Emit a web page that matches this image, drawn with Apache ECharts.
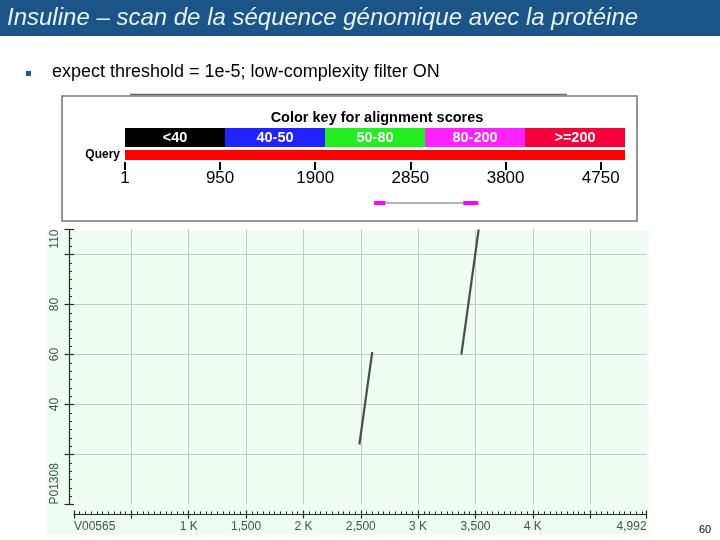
<!DOCTYPE html>
<html>
<head>
<meta charset="utf-8">
<script src="https://cdn.jsdelivr.net/npm/echarts@6/dist/echarts.min.js"></script>
<style>html,body{margin:0;padding:0;background:#fff}#c{width:720px;height:540px}</style>
</head>
<body>
<div id="c"></div>
<script>
// ---- text ----
const titleText = 'Insuline – scan de la séquence génomique avec la protéine';
const subtitleText = 'expect threshold = 1e-5; low-complexity filter ON';
const keyTitle = 'Color key for alignment scores';
const pageNumber = '60';
// ---- colour key ----
const keyLabels = ['<40', '40-50', '50-80', '80-200', '>=200'];
const keyPalette = ['#000000', '#2222ff', '#22ee22', '#ff22ff', '#f5003a'];
// ---- query / subject ----
const queryName = 'Query';
const queryLength = 4992;
const queryTicks = [1, 950, 1900, 2850, 3800, 4750];
const genomicName = 'V00565';
const proteinName = 'P01308';
const proteinLength = 110;
// ---- HSPs (genomic nt start/end, protein aa start/end) ----
const hspNtStart = [2488, 3377];
const hspNtEnd = [2600, 3528];
const hspAaStart = [24, 60];
const hspAaEnd = [61, 110];
// ---- dot plot tick labels ----
const xTickLabels = {0: genomicName, 1000: '1 K', 1500: '1,500', 2000: '2 K', 2500: '2,500', 3000: '3 K', 3500: '3,500', 4000: '4 K', 4992: '4,992'};
const yTickLabels = {0: proteinName, 40: '40', 60: '60', 80: '80', 110: '110'};

const FONT = 'Liberation Sans, Arial, sans-serif';
const axisDark = '#1e2e22';
const labelCol = '#3c5a44';
const gridCol = '#c3cbc4';

const chart = echarts.init(document.getElementById('c'));

const dotSeries = hspNtStart.map((s, i) => ({
  type: 'line', xAxisIndex: 0, yAxisIndex: 0,
  data: [[s, hspAaStart[i]], [hspNtEnd[i], hspAaEnd[i]]],
  showSymbol: false, symbol: 'none', silent: true,
  lineStyle: {color: '#4a4f4b', width: 2.2}, z: 5
}));

const option = {
  animation: false,
  backgroundColor: '#ffffff',
  grid: [
    {left: 74, top: 229.5, width: 572.6, height: 275, show: false},
    {left: 125, top: 128, width: 500, height: 19, show: false},
    {left: 125, top: 150, width: 500, height: 10, show: false},
    {left: 125, top: 195, width: 500, height: 16, show: false}
  ],
  xAxis: [
    { // dot plot main
      gridIndex: 0, type: 'value', min: 0, max: queryLength, interval: 500,
      position: 'bottom', offset: 10,
      axisLine: {show: true, onZero: false, lineStyle: {color: axisDark, width: 1.2}},
      axisTick: {show: true, inside: true, length: 4, lineStyle: {color: axisDark, width: 1.2}},
      minorTick: {show: true, splitNumber: 10, length: 3, lineStyle: {color: axisDark, width: 1}},
      axisLabel: {show: true, margin: 6, fontSize: 12, fontFamily: FONT, color: labelCol,
        alignMinLabel: 'left', alignMaxLabel: 'right',
        formatter: v => (xTickLabels[v] !== undefined ? xTickLabels[v] : '')},
      splitLine: {show: true, showMinLine: false, showMaxLine: false, lineStyle: {color: gridCol, width: 1}},
      minorSplitLine: {show: false}
    },
    { // dot plot outer ticks
      gridIndex: 0, type: 'value', min: 0, max: queryLength, interval: 500,
      position: 'bottom', offset: 10,
      axisLine: {show: false, onZero: false}, axisLabel: {show: false}, splitLine: {show: false},
      axisTick: {show: true, inside: false, length: 4, lineStyle: {color: axisDark, width: 1.2}}
    },
    { // colour key
      gridIndex: 1, type: 'category', data: keyLabels, show: false
    },
    { // query axis
      gridIndex: 2, type: 'value', min: 1, max: queryLength, position: 'bottom', offset: 2,
      axisLine: {show: false, onZero: false},
      axisTick: {show: true, customValues: queryTicks, length: 8, lineStyle: {color: '#000', width: 2}},
      axisLabel: {show: true, customValues: queryTicks, margin: 8, fontSize: 17, fontFamily: FONT, color: '#000',
        formatter: v => String(v)},
      splitLine: {show: false}
    },
    { // hits
      gridIndex: 3, type: 'value', min: 1, max: queryLength, show: false
    }
  ],
  yAxis: [
    { // dot plot main
      gridIndex: 0, type: 'value', min: 0, max: proteinLength, interval: 20,
      position: 'left', offset: 5,
      axisLine: {show: true, onZero: false, lineStyle: {color: axisDark, width: 1.2}},
      axisTick: {show: true, inside: true, length: 5, lineStyle: {color: axisDark, width: 1.2}},
      minorTick: {show: true, splitNumber: 6, length: 3, lineStyle: {color: axisDark, width: 1}},
      axisLabel: {show: true, rotate: 90, margin: 8, fontSize: 12, fontFamily: FONT, color: labelCol,
        alignMinLabel: 'left', alignMaxLabel: 'right',
        formatter: v => (yTickLabels[v] !== undefined ? yTickLabels[v] : '')},
      splitLine: {show: true, showMinLine: false, showMaxLine: false, lineStyle: {color: gridCol, width: 1}},
      minorSplitLine: {show: false}
    },
    { // dot plot outer ticks
      gridIndex: 0, type: 'value', min: 0, max: proteinLength, interval: 20,
      position: 'left', offset: 5,
      axisLine: {show: false, onZero: false}, axisLabel: {show: false}, splitLine: {show: false},
      axisTick: {show: true, inside: false, length: 4.5, lineStyle: {color: axisDark, width: 1.2}}
    },
    {gridIndex: 1, type: 'value', min: 0, max: 1, show: false},
    { // query label axis
      gridIndex: 2, type: 'category', data: [queryName],
      axisLine: {show: false, onZero: false}, axisTick: {show: false},
      axisLabel: {show: true, margin: 5, fontSize: 12, fontWeight: 'bold', fontFamily: FONT, color: '#000'}
    },
    {gridIndex: 3, type: 'value', min: 0, max: 1, show: false}
  ],
  graphic: [
    {type: 'rect', z: -10, shape: {x: 0, y: 0, width: 720, height: 36}, style: {fill: '#1b5486'}},
    {type: 'text', z: 10, x: 7, y: 18, style: {text: titleText, fill: '#e6f2ff', font: 'italic 24px ' + FONT, textVerticalAlign: 'middle'}},
    {type: 'rect', z: 10, shape: {x: 26, y: 71, width: 5, height: 5}, style: {fill: '#24578a'}},
    {type: 'text', z: 10, x: 52, y: 72, style: {text: subtitleText, fill: '#000', font: '18px ' + FONT, textVerticalAlign: 'middle'}},
    {type: 'line', z: -9, shape: {x1: 130, y1: 94.5, x2: 567, y2: 94.5}, style: {stroke: '#6a6a6a', lineWidth: 1.5}},
    {type: 'rect', z: -9, shape: {x: 62, y: 96, width: 575, height: 125}, style: {fill: '#ffffff', stroke: '#7a7a7a', lineWidth: 1.6}},
    {type: 'text', z: 10, x: 377, y: 118, style: {text: keyTitle, fill: '#000', font: 'bold 14.5px ' + FONT, textAlign: 'center', textVerticalAlign: 'middle'}},
    {type: 'rect', z: -9, shape: {x: 47, y: 231, width: 601, height: 304}, style: {fill: '#eefcf1'}},
    {type: 'text', z: 10, x: 705, y: 530, style: {text: pageNumber, fill: '#000', font: '11px ' + FONT, textAlign: 'center', textVerticalAlign: 'middle'}}
  ],
  series: [
    ...dotSeries,
    {
      type: 'bar', xAxisIndex: 2, yAxisIndex: 2, barWidth: '100%', barCategoryGap: '0%', silent: true,
      data: keyLabels.map((l, i) => ({value: 1, itemStyle: {color: keyPalette[i]}})),
      label: {show: true, position: 'inside', formatter: '{b}', color: '#ffffff', fontSize: 14.5, fontWeight: 'bold', fontFamily: FONT}
    },
    {
      type: 'bar', xAxisIndex: 3, yAxisIndex: 3, barWidth: '100%', silent: true,
      data: [queryLength], itemStyle: {color: '#ff0000'}
    },
    {
      type: 'custom', xAxisIndex: 4, yAxisIndex: 4, silent: true,
      data: hspNtStart.map((s, i) => [s, hspNtEnd[i], i]),
      renderItem: (params, api) => {
        const i = api.value(2);
        const p0 = api.coord([api.value(0), 0.5]);
        const p1 = api.coord([api.value(1), 0.5]);
        const children = [];
        if (i > 0) {
          const prev = api.coord([hspNtEnd[i - 1], 0.5]);
          children.push({type: 'line', shape: {x1: prev[0], y1: prev[1], x2: p0[0], y2: p0[1]}, style: {stroke: '#9a9a9a', lineWidth: 1.5}});
        }
        children.push({type: 'rect', shape: {x: p0[0], y: p0[1] - 2, width: p1[0] - p0[0], height: 4}, style: {fill: '#ff00ff'}});
        return {type: 'group', children};
      }
    }
  ]
};
chart.setOption(option);
</script>
</body>
</html>
